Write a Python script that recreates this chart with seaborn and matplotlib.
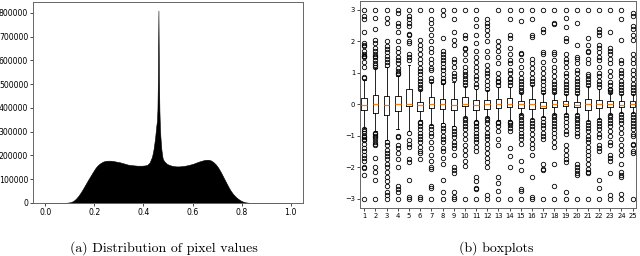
import numpy as np
import pandas as pd
import seaborn as sns
import matplotlib
matplotlib.use("Agg")
import matplotlib.pyplot as plt

# --- left panel: histogram of pixel values (counts) ---
coarse_lo = [0, 0, 0, 0, 0, 0, 0, 0, 1000, 2000,
             4000, 9000, 18000, 30000, 45000, 62000, 80000, 98000, 115000, 132000,
             148000, 160000, 168000, 174000, 177000, 178000, 178000, 177000, 175000, 173000,
             171000, 168000, 165000, 162000, 160000, 159000, 158000, 157000, 157000, 157000,
             158000, 160000, 170000, 195000]
spike = [225000, 240000, 255000, 270000, 290000, 310000, 330000, 345000, 395000, 535000,
         810000, 530000, 390000, 320000, 280000, 250000, 225000, 210000, 195000, 185000]
coarse_hi = [175000, 165000, 160000, 157000, 155000, 154000, 154000, 155000, 156000, 158000,
             160000, 163000, 166000, 170000, 174000, 177000, 180000, 182000, 182000, 179000,
             172000, 162000, 148000, 130000, 110000, 90000, 70000, 52000, 38000, 27000,
             18000, 11000, 6000, 3000, 1500, 500, 300, 200, 200, 200,
             200, 200, 200, 200, 200, 200, 200, 200, 200, 200,
             200, 200]

# --- right panel: 25 boxplots (stats) ---
labels = [str(i) for i in range(1, 26)]
q1 = [-0.17, -0.28, -0.33, -0.20, -0.05, -0.20, -0.13, -0.15, -0.18, -0.07,
      -0.18, -0.15, -0.12, -0.10, -0.12, -0.15, -0.13, -0.09, -0.07, -0.10,
      -0.17, -0.12, -0.09, -0.10, -0.09]
med = [-0.02, 0.00, -0.03, 0.00, 0.02, -0.03, 0.02, 0.00, -0.02, 0.00,
       -0.02, 0.00, 0.00, 0.02, 0.00, 0.00, -0.04, 0.00, 0.00, -0.02,
       0.00, 0.00, 0.00, -0.02, 0.00]
q3 = [0.20, 0.30, 0.25, 0.27, 0.48, 0.08, 0.22, 0.17, 0.16, 0.24,
      0.14, 0.14, 0.16, 0.20, 0.09, 0.16, 0.07, 0.12, 0.11, 0.07,
      0.16, 0.14, 0.11, 0.09, 0.09]
whislo = [-0.75, -0.85, -1.15, -0.80, -0.85, -0.50, -0.65, -0.60, -0.70, -0.42,
          -0.50, -0.42, -0.50, -0.50, -0.32, -0.48, -0.40, -0.32, -0.30, -0.30,
          -0.52, -0.47, -0.32, -0.28, -0.28]
whishi = [0.77, 1.15, 1.20, 0.90, 1.25, 0.45, 0.70, 0.65, 0.70, 0.58,
          0.50, 0.45, 0.55, 0.55, 0.37, 0.60, 0.37, 0.37, 0.32, 0.32,
          0.58, 0.50, 0.37, 0.32, 0.32]
fliers = [
    [0.85, 0.87, 1.2, 1.35, 1.5, 1.52, 1.55, 1.6, 1.7, 1.85, 1.9, 1.95, 2.3, 2.7, 2.8, 3.0,
     -0.8, -0.85, -0.9, -1.0, -1.05, -1.1, -1.15, -1.25, -1.4, -1.5, -1.6, -1.7, -1.8, -2.0, -2.02, -2.25, -3.0],
    [1.2, 1.25, 1.3, 1.4, 1.5, 1.55, 1.6, 1.7, 1.8, 1.95, 2.05, 2.4, 2.75, 3.0,
     -0.9, -0.95, -1.0, -1.05, -1.1, -1.2, -1.25, -1.3, -1.7, -2.0, -2.15, -2.4, -3.0],
    [1.25, 1.35, 1.45, 1.55, 1.65, 1.75, 1.85, 2.0, 2.6, 2.75, 3.0,
     -1.2, -1.3, -1.45, -1.55, -1.65, -1.75, -1.9, -2.0, -2.15, -2.3, -2.45, -2.6, -2.8, -2.9, -3.0],
    [0.95, 1.0, 1.05, 1.15, 1.3, 1.4, 1.5, 1.65, 1.8, 2.0, 2.3, 2.5, 2.6, 2.9, 3.0,
     -1.0, -1.05, -1.3, -1.4, -1.55, -1.75, -2.0, -2.6, -2.7, -2.8, -3.0],
    [1.4, 1.5, 1.6, 1.95, 2.0, 2.2, 2.25, 2.5, 2.6, 2.7, 2.8, 3.0,
     -0.9, -1.15, -1.25, -1.35, -1.75, -1.85, -2.4, -2.95, -3.0],
    [0.5, 0.55, 0.65, 0.75, 0.85, 0.95, 1.05, 1.15, 1.3, 1.45, 1.6, 1.75, 1.9, 2.05, 3.0,
     -0.55, -0.6, -0.7, -0.8, -0.9, -1.0, -1.1, -1.2, -1.35, -1.5, -1.55, -1.75, -2.95, -3.0],
    [0.75, 0.85, 1.1, 1.15, 1.3, 1.45, 1.65, 1.8, 2.0, 2.2, 2.4, 2.6, 2.7, 3.0,
     -0.7, -0.8, -0.9, -1.0, -1.2, -1.4, -1.6, -1.8, -2.0, -2.05, -2.6, -2.65, -3.0],
    [0.7, 0.75, 0.85, 0.95, 1.1, 1.2, 1.3, 1.4, 1.5, 1.6, 1.7, 2.1, 2.85, 3.0,
     -0.65, -0.75, -0.85, -1.0, -1.1, -1.2, -1.4, -1.5, -1.7, -1.9, -2.4, -2.8, -3.0],
    [0.8, 0.9, 1.0, 1.2, 1.35, 1.45, 1.9, 2.05, 2.3, 2.7, 3.0,
     -0.75, -0.85, -0.95, -1.05, -1.2, -1.3, -1.4, -1.6, -2.0, -2.1, -2.2, -2.8, -2.95, -3.0],
    [0.6, 0.7, 0.8, 0.9, 0.95, 1.05, 1.2, 1.4, 1.6, 1.75, 1.8, 2.1, 2.2, 3.0,
     -0.45, -0.5, -0.6, -0.7, -0.8, -0.95, -1.1, -1.3, -1.45, -1.6, -1.8, -1.95, -3.0],
    [0.55, 0.65, 0.8, 0.9, 1.05, 1.2, 1.35, 1.5, 1.7, 1.95, 2.2, 2.5, 2.7, 3.0,
     -0.55, -0.6, -0.7, -0.8, -0.9, -1.0, -1.1, -1.2, -1.35, -1.5, -2.3, -2.45, -2.65, -2.7, -3.0],
    [0.5, 0.6, 0.75, 0.9, 1.0, 1.1, 1.25, 1.5, 1.7, 2.0, 2.2, 2.35, 2.5, 2.6, 2.7,
     -0.45, -0.5, -0.6, -0.75, -0.9, -1.0, -1.1, -1.25, -1.4, -1.55, -1.7, -1.85, -2.0, -2.9, -3.0],
    [0.6, 0.7, 0.75, 0.85, 1.0, 1.3, 1.5, 1.7, 1.85, 2.0, 3.0,
     -0.55, -0.6, -0.7, -0.85, -1.1, -1.3, -2.3, -2.5, -2.75, -3.0],
    [0.6, 0.7, 0.8, 0.85, 1.0, 1.1, 1.3, 1.4, 1.6, 1.8, 2.1, 2.2, 2.7, 3.0,
     -0.55, -0.6, -0.65, -0.75, -0.85, -1.4, -1.65, -2.0, -3.0],
    [0.4, 0.45, 0.55, 0.65, 0.75, 0.85, 1.0, 1.2, 1.4, 1.6, 1.62, 2.65, 3.0,
     -0.35, -0.4, -0.5, -0.6, -0.7, -0.8, -0.9, -1.0, -1.1, -1.25, -1.8, -2.1, -2.7, -2.75, -3.0],
    [0.65, 0.75, 0.85, 1.0, 1.15, 1.3, 1.45, 2.15, 2.2, 2.7, 3.0,
     -0.5, -0.6, -0.7, -0.8, -0.95, -1.1, -1.25, -1.4, -1.6, -2.3, -2.95, -3.0],
    [0.4, 0.5, 0.6, 0.75, 0.85, 1.0, 1.15, 1.35, 1.6, 1.65, 2.3, 2.4, 3.0,
     -0.45, -0.55, -0.65, -0.75, -0.9, -1.0, -1.1, -1.9, -2.05, -2.1, -3.0],
    [0.4, 0.45, 0.55, 0.65, 0.75, 0.9, 1.05, 1.2, 1.4, 1.6, 1.65, 2.55, 2.6, 3.0,
     -0.35, -0.4, -0.5, -0.6, -0.7, -0.8, -0.9, -1.05, -1.2, -1.35, -1.9, -2.6, -3.0],
    [0.35, 0.45, 0.55, 0.65, 0.75, 0.9, 1.0, 1.2, 1.35, 1.45, 1.6, 2.0, 2.1, 2.45, 2.75, 3.0,
     -0.35, -0.45, -0.55, -0.7, -0.85, -0.95, -1.3, -1.45, -1.6, -1.75, -1.85, -2.8, -3.0],
    [0.35, 0.45, 0.55, 0.65, 0.75, 0.85, 1.0, 1.1, 1.3, 1.45, 1.5, 1.9, 2.6, 3.0,
     -0.35, -0.45, -0.5, -0.6, -0.7, -0.8, -0.9, -1.0, -1.9, -2.0, -2.1, -2.2, -2.25, -3.0],
    [0.6, 0.7, 0.8, 0.9, 0.95, 1.3, 1.45, 1.65, 1.7, 1.9, 2.1, 3.0,
     -0.55, -0.65, -0.75, -0.85, -1.0, -1.1, -1.2, -1.35, -1.5, -1.6, -1.75, -1.9, -2.05, -2.15, -2.2, -3.0],
    [0.55, 0.65, 0.75, 0.9, 1.0, 1.2, 1.4, 1.5, 1.65, 1.8, 1.9, 2.2, 2.3, 2.4, 3.0,
     -0.5, -0.6, -0.7, -0.8, -0.95, -1.05, -1.3, -1.4, -1.5, -2.4, -2.65, -3.0],
    [0.4, 0.45, 0.5, 0.6, 0.7, 0.9, 1.05, 1.3, 1.45, 1.6, 1.7, 1.8, 2.3, 3.0,
     -0.35, -0.4, -0.5, -0.6, -0.7, -0.85, -1.0, -1.2, -1.3, -1.6, -1.7, -1.8, -2.2, -2.9, -3.0],
    [0.35, 0.45, 0.55, 0.65, 0.75, 0.9, 1.0, 1.1, 1.3, 1.4, 2.05, 2.7, 3.0,
     -0.3, -0.4, -0.5, -0.6, -0.75, -0.9, -1.1, -1.3, -1.45, -1.6, -1.9, -2.15, -2.25, -2.3, -2.85, -3.0],
    [0.35, 0.45, 0.55, 0.65, 0.8, 0.95, 1.1, 1.3, 1.45, 1.6, 2.05, 2.2, 2.4, 2.5, 2.8, 2.9,
     -0.3, -0.4, -0.5, -0.6, -0.7, -0.8, -0.95, -1.0, -1.25, -1.3, -1.5, -1.55, -3.0],
]

# bin edges: 0.01 wide, finer (0.002) around the spike
edges = np.round(np.concatenate([np.arange(0, 44) * 0.01,
                                 0.44 + np.arange(0, 20) * 0.002,
                                 0.48 + np.arange(0, 53) * 0.01]), 4)
counts = np.array(coarse_lo + spike + coarse_hi, dtype=float)
hist_df = pd.DataFrame({"pixel": (edges[:-1] + edges[1:]) / 2, "count": counts})

fig = plt.figure(figsize=(6.4, 2.56), dpi=100)
ax1 = fig.add_axes([33 / 640, 1 - 203 / 256, 270 / 640, 201 / 256])
ax2 = fig.add_axes([360 / 640, 1 - 208 / 256, 276 / 640, 207.5 / 256])

sns.histplot(data=hist_df, x="pixel", weights="count", bins=list(edges),
             element="poly", fill=True, color="black", alpha=1,
             linewidth=0.4, ax=ax1)
ax1.set_xlim(-0.05, 1.05)
ax1.set_ylim(0, 846000)
ax1.set_xticks([0.0, 0.2, 0.4, 0.6, 0.8, 1.0])
ax1.set_yticks(range(0, 800001, 100000))
ax1.set_xlabel("")
ax1.set_ylabel("")
ax1.tick_params(labelsize=5.6, length=2, width=0.5, pad=1.5)

stats = []
for i in range(25):
    stats.append(dict(med=med[i], q1=q1[i], q3=q3[i], whislo=whislo[i],
                      whishi=whishi[i], fliers=fliers[i]))
ax2.bxp(stats, positions=range(1, 26), widths=0.5,
        boxprops=dict(linewidth=0.6, color="black"),
        whiskerprops=dict(linewidth=0.6, color="black"),
        capprops=dict(linewidth=0.6, color="black"),
        medianprops=dict(linewidth=0.9, color="#ff7f0e"),
        flierprops=dict(marker="o", markersize=3.2, markerfacecolor="none",
                        markeredgecolor="black", markeredgewidth=0.6))
ax2.set_xlim(0.62, 25.3)
ax2.set_ylim(-3.3, 3.3)
ax2.set_xticks(range(1, 26))
ax2.set_xticklabels(labels)
ax2.set_yticks([-3, -2, -1, 0, 1, 2, 3])
ax2.tick_params(labelsize=4.9, length=2, width=0.5, pad=1.5)

for ax in (ax1, ax2):
    for s in ax.spines.values():
        s.set_color("0.4")
        s.set_linewidth(0.7)

fig.text(164 / 640, 1 - 248 / 256, "(a) Distribution of pixel values",
         family="cmr10", fontsize=10, ha="center", va="center")
fig.text(496 / 640, 1 - 248 / 256, "(b) boxplots",
         family="cmr10", fontsize=10, ha="center", va="center")

fig.savefig("out.png", dpi=100)
